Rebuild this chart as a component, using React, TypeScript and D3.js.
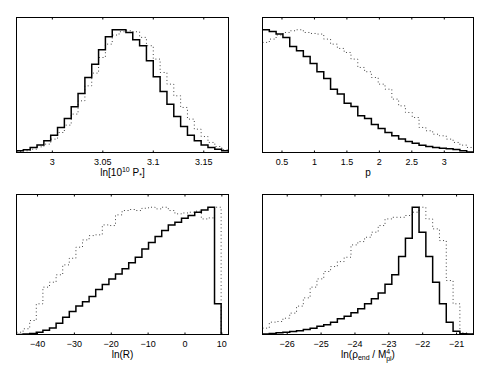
import * as d3 from "d3";
import React from "react";

// panel 1: ln[10^10 P*]
const p1Domain = [2.9645, 3.1745];
const p1Ticks = [3, 3.05, 3.1, 3.15];
const p1Solid = [0.014, 0.022, 0.041, 0.062, 0.095, 0.141, 0.204, 0.277, 0.372, 0.481, 0.611, 0.72, 0.837, 0.943, 1.0, 1.0, 0.978, 0.918, 0.87, 0.747, 0.617, 0.497, 0.394, 0.293, 0.212, 0.141, 0.095, 0.062, 0.041, 0.027, 0.014];
const p1Dotted = [0.008, 0.014, 0.027, 0.046, 0.068, 0.109, 0.163, 0.223, 0.313, 0.421, 0.543, 0.647, 0.774, 0.883, 0.957, 0.984, 0.992, 0.984, 0.938, 0.87, 0.761, 0.652, 0.557, 0.462, 0.367, 0.272, 0.19, 0.13, 0.082, 0.049, 0.022];

// panel 2: p
const p2Domain = [0.2, 3.45];
const p2Ticks = [0.5, 1, 1.5, 2, 2.5, 3];
const p2Solid = [1.0, 0.986, 0.965, 0.938, 0.864, 0.829, 0.783, 0.726, 0.658, 0.603, 0.516, 0.476, 0.402, 0.375, 0.299, 0.277, 0.228, 0.196, 0.163, 0.136, 0.109, 0.09, 0.076, 0.06, 0.049, 0.041, 0.035, 0.03, 0.024, 0.014, 0.005];
const p2Dotted = [0.897, 0.924, 0.957, 0.978, 0.992, 1.0, 0.978, 0.97, 0.965, 0.924, 0.883, 0.848, 0.815, 0.761, 0.693, 0.658, 0.611, 0.557, 0.516, 0.435, 0.38, 0.326, 0.285, 0.204, 0.177, 0.149, 0.136, 0.109, 0.082, 0.06, 0.041];

// panel 3: ln(R)
const p3Domain = [-45.7, 11.8];
const p3BinHi = 9.8;
const p3Ticks = [-40, -30, -20, -10, 0, 10];
const p3Solid = [0, 0.003, 0.008, 0.018, 0.034, 0.052, 0.089, 0.136, 0.181, 0.223, 0.257, 0.298, 0.353, 0.393, 0.437, 0.476, 0.516, 0.563, 0.607, 0.672, 0.723, 0.77, 0.817, 0.861, 0.882, 0.914, 0.935, 0.961, 0.979, 1.0, 0.241];
const p3Dotted = [0.018, 0.045, 0.11, 0.241, 0.372, 0.411, 0.469, 0.547, 0.599, 0.686, 0.743, 0.777, 0.783, 0.861, 0.856, 0.94, 0.974, 0.982, 0.974, 0.992, 1.0, 0.987, 1.0, 0.974, 0.948, 0.955, 0.961, 0.969, 0.908, 0.916, 1.0];

// panel 4: ln(rho_end / M_pl^4)
const p4Domain = [-26.73, -20.5];
const p4Ticks = [-26, -25, -24, -23, -22, -21];
const p4Solid = [0.003, 0.008, 0.013, 0.018, 0.024, 0.029, 0.039, 0.05, 0.065, 0.076, 0.097, 0.123, 0.144, 0.17, 0.202, 0.241, 0.28, 0.327, 0.395, 0.469, 0.613, 0.757, 1.0, 0.804, 0.613, 0.411, 0.241, 0.097, 0.026, 0.005, 0.003];
const p4Dotted = [0.05, 0.097, 0.102, 0.128, 0.168, 0.223, 0.288, 0.372, 0.437, 0.495, 0.534, 0.573, 0.607, 0.704, 0.73, 0.764, 0.804, 0.856, 0.908, 0.921, 0.921, 0.935, 0.961, 1.0, 0.908, 0.83, 0.738, 0.424, 0.241, 0.013, 0.003];

const FONT = "'Liberation Sans', Arial, Helvetica, sans-serif";

const fmt = (v: number) => String(v).replace("-", "\u2212");

function stepPath(h: number[], lo: number, hi: number, x: d3.ScaleLinear<number, number>, y: d3.ScaleLinear<number, number>) {
  const w = (hi - lo) / h.length;
  const pts: [number, number][] = h.map((v, i) => [lo + i * w, v]);
  pts.push([hi, h[h.length - 1]]);
  pts.push([hi, 0]);
  return d3.line<[number, number]>()
    .x((d) => x(d[0]))
    .y((d) => y(d[1]))
    .curve(d3.curveStepAfter)(pts) || "";
}

type PanelProps = {
  id: string;
  box: [number, number, number, number];
  domain: number[];
  binHi?: number;
  ticks: number[];
  solid: number[];
  dotted: number[];
  label: React.ReactNode;
};

function Panel({ id, box, domain, binHi, ticks, solid, dotted, label }: PanelProps) {
  const [x0, x1, y0, y1] = box;
  const x = d3.scaleLinear().domain(domain).range([x0, x1]);
  const y = d3.scaleLinear().domain([0, 1.1]).range([y1, y0]);
  const hi = binHi ?? domain[1];
  return (
    <g>
      <clipPath id={id}>
        <rect x={x0} y={y0} width={x1 - x0} height={y1 - y0} />
      </clipPath>
      <g clipPath={`url(#${id})`}>
        <path d={stepPath(dotted, domain[0], hi, x, y)} fill="none" stroke="#444" strokeWidth={1} strokeDasharray="1 2.6" />
        <path d={stepPath(solid, domain[0], hi, x, y)} fill="none" stroke="#000" strokeWidth={1.5} />
      </g>
      <rect x={x0} y={y0} width={x1 - x0} height={y1 - y0} fill="none" stroke="#000" strokeWidth={1} />
      {ticks.map((t) => (
        <g key={t}>
          <line x1={x(t)} x2={x(t)} y1={y1} y2={y1 - 2} stroke="#000" strokeWidth={1} />
          <line x1={x(t)} x2={x(t)} y1={y0} y2={y0 + 2} stroke="#000" strokeWidth={1} />
          <text x={x(t)} y={y1 + 12.5} textAnchor="middle" fontSize={9} fontFamily={FONT}>{fmt(t)}</text>
        </g>
      ))}
      <text x={(x0 + x1) / 2} y={y1 + 23.5} textAnchor="middle" fontSize={10} fontFamily={FONT}>{label}</text>
    </g>
  );
}

export default function App() {
  return (
    <svg width={491} height={370} viewBox="0 0 491 370" style={{ position: "absolute", left: 0, top: 0, background: "#fff" }}>
      <Panel id="c1" box={[16.5, 228.5, 17.5, 152.5]} domain={p1Domain} ticks={p1Ticks} solid={p1Solid} dotted={p1Dotted}
        label={<>ln[10<tspan fontSize={7} dy={-4}>10</tspan><tspan dy={4}> P</tspan><tspan fontSize={7} dy={2}>*</tspan><tspan dy={-2}>]</tspan></>} />
      <Panel id="c2" box={[262.5, 473.5, 17.5, 152.5]} domain={p2Domain} ticks={p2Ticks} solid={p2Solid} dotted={p2Dotted}
        label={<>p</>} />
      <Panel id="c3" box={[16.5, 228.5, 194.5, 334.5]} domain={p3Domain} binHi={p3BinHi} ticks={p3Ticks} solid={p3Solid} dotted={p3Dotted}
        label={<>ln(R)</>} />
      <Panel id="c4" box={[262.5, 473.5, 194.5, 334.5]} domain={p4Domain} ticks={p4Ticks} solid={p4Solid} dotted={p4Dotted}
        label={<>ln(ρ<tspan fontSize={7} dy={2}>end</tspan><tspan dy={-2}> / M</tspan><tspan fontSize={7} dy={-4}>4</tspan><tspan fontSize={7} dx={-4} dy={6.5}>pl</tspan><tspan dy={-2.5}>)</tspan></>} />
    </svg>
  );
}
